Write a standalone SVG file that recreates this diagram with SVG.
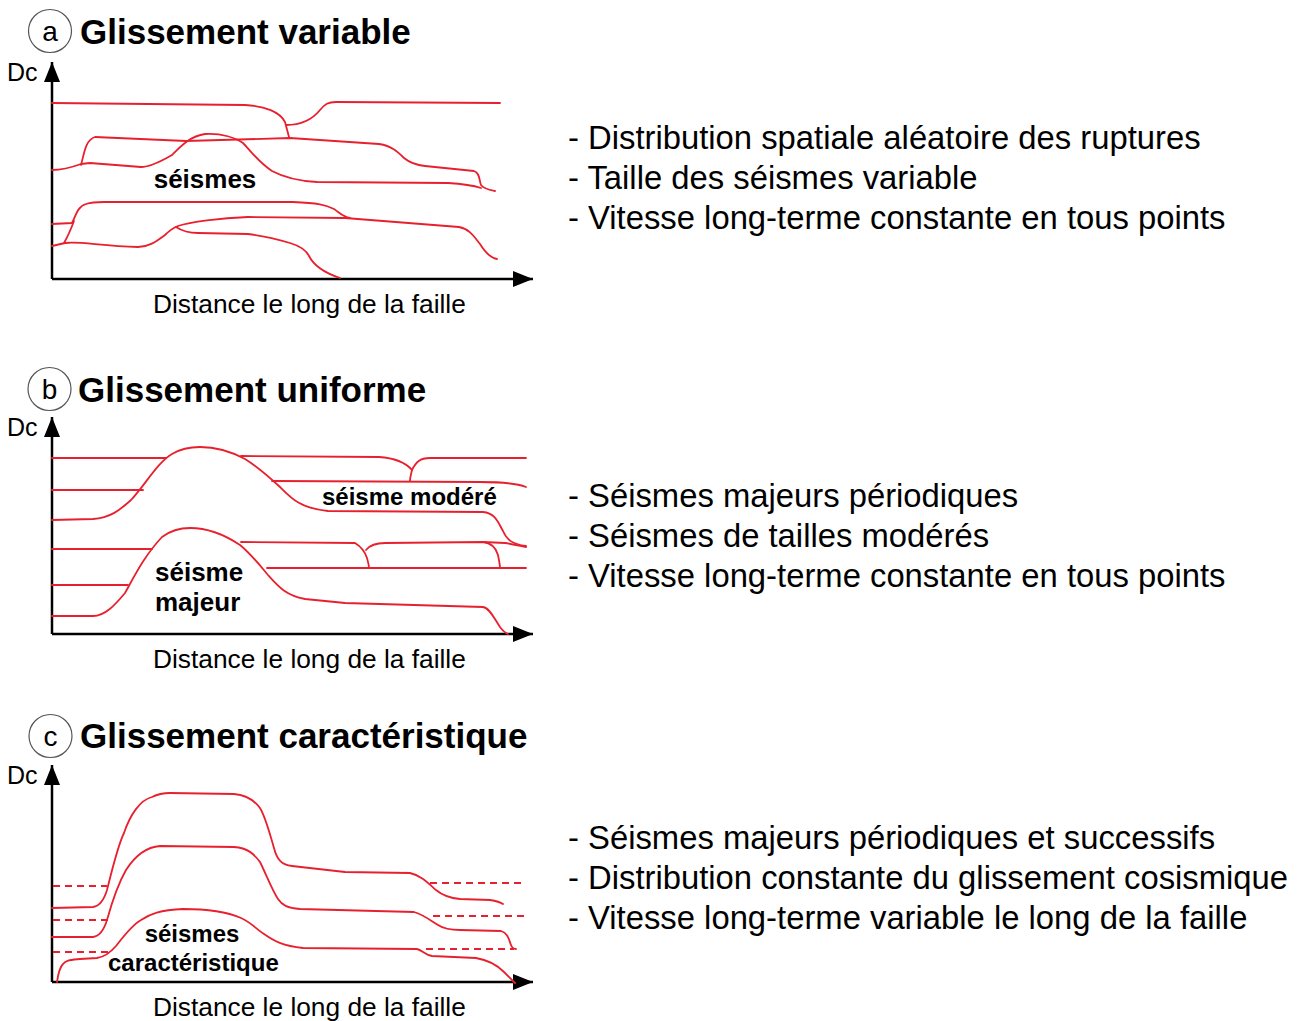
<svg xmlns="http://www.w3.org/2000/svg" width="1302" height="1021" viewBox="0 0 1302 1021">
<defs>
<marker id="arr" viewBox="0 0 20 16" refX="20" refY="8" markerWidth="20" markerHeight="16" markerUnits="userSpaceOnUse" orient="auto">
<path d="M0,0 L20,8 L0,16 Z" fill="#000"/>
</marker>
</defs>
<style>
.ax{stroke:#000;stroke-width:2.5;fill:none}
.cv{stroke:#e8202e;stroke-width:1.8;fill:none;stroke-linecap:round;stroke-linejoin:round}
.ds{stroke:#e8202e;stroke-width:1.8;fill:none;stroke-dasharray:7,5}
.circ{fill:#fff;stroke:#555;stroke-width:1.2}
.ttl{font-family:"Liberation Sans",Arial,sans-serif;font-weight:bold;font-size:35px;fill:#000}
.lt{font-family:"Liberation Sans",Arial,sans-serif;font-size:28px;fill:#000}
.dc{font-family:"Liberation Sans",Arial,sans-serif;font-size:25px;fill:#000}
.xl{font-family:"Liberation Sans",Arial,sans-serif;font-size:26.3px;fill:#000}
.rt{font-family:"Liberation Sans",Arial,sans-serif;font-size:32.8px;fill:#000}
.lb{font-family:"Liberation Sans",Arial,sans-serif;font-weight:bold;font-size:24px;fill:#000}
</style>

<!-- Panel a -->
<g id="panel-a-title">
<circle class="circ" cx="50" cy="31" r="21.5"/>
<text class="lt" x="50" y="41" text-anchor="middle">a</text>
<text class="ttl" x="80" y="44">Glissement variable</text>
</g>
<g id="panel-a-axes">
<line class="ax" x1="52" y1="279" x2="52" y2="62" marker-end="url(#arr)"/>
<line class="ax" x1="52" y1="279" x2="533" y2="279" marker-end="url(#arr)"/>
<text class="dc" x="7" y="81">Dc</text>
<text class="xl" x="153" y="313">Distance le long de la faille</text>
</g>
<g id="panel-a-curves">
<path class="cv" d="M52,103 L245,105 C265,106 280,112 285,122 L289,137"/>
<path class="cv" d="M286,125 C300,125 312,120 320,110 C325,104 328,102 336,102 L500,103"/>
<path class="cv" d="M81,165 C84,155 85,140 95,137 L186,141 L290,138 L379,144 C392,146 398,152 404,158 C410,163 415,165 425,166 L474,171 C480,173 479,180 481,185 C484,189 490,190 495,191"/>
<path class="cv" d="M52,170 C62,170 70,168 81,164 L90,163 L141,167 C150,167 160,162 172,155 C180,147 190,136 205,134 C222,133 236,138 243,143 C250,150 258,162 272,171 C285,178 298,181 317,182 L448,183 C465,184 475,186 481,188"/>
<path class="cv" d="M52,224 L72,223 C76,215 78,206 86,204 C92,202 96,202 104,202 L293,202 C318,203 326,205 334,209 C340,213 343,217 350,218"/>
<path class="cv" d="M64,243 C68,236 71,229 74,221"/>
<path class="cv" d="M52,246 L65,243 C80,241 100,246 138,247 C150,247 158,240 165,235 C170,230 173,228 178,226 C190,222 220,218 248,217 L345,218 L459,227 C470,229 475,238 480,244 C485,252 490,258 497,259"/>
<path class="cv" d="M176,227 C182,231 188,233 198,233 L248,234 C265,236 280,240 290,243 C300,246 306,250 309,256 C313,264 322,272 340,278"/>
</g>
<g id="panel-a-labels">
<text class="lb" x="205" y="188" text-anchor="middle" style="font-size:26px">séismes</text>
</g>
<g id="panel-a-text">
<text class="rt" x="568" y="149">- Distribution spatiale aléatoire des ruptures</text>
<text class="rt" x="568" y="189">- Taille des séismes variable</text>
<text class="rt" x="568" y="229">- Vitesse long-terme constante en tous points</text>
</g>

<!-- Panel b -->
<g id="panel-b-title">
<circle class="circ" cx="49.5" cy="389" r="21.5"/>
<text class="lt" x="49.5" y="399" text-anchor="middle">b</text>
<text class="ttl" x="78" y="402">Glissement uniforme</text>
</g>
<g id="panel-b-axes">
<line class="ax" x1="52" y1="634" x2="52" y2="417" marker-end="url(#arr)"/>
<line class="ax" x1="52" y1="634" x2="533" y2="634" marker-end="url(#arr)"/>
<text class="dc" x="7" y="436">Dc</text>
<text class="xl" x="153" y="668">Distance le long de la faille</text>
</g>
<g id="panel-b-curves">
<path class="cv" d="M52,458 L166,458"/>
<path class="cv" d="M241,456 L379,457 C395,458 405,462 412,470 C411,474 410,478 410,481"/>
<path class="cv" d="M412,470 C416,462 420,458 430,458 L526,458"/>
<path class="cv" d="M52,490 L143,490"/>
<path class="cv" d="M272,481 L480,482 C505,482 518,484 526,487"/>
<path class="cv" d="M52,520 L93,519 C110,518 120,510 131,500 C145,485 158,462 172,454 C182,448 192,447 200,447 C215,447 232,452 245,459 C258,467 268,476 280,487 C292,499 300,508 328,511 L483,512 C495,513 498,522 503,531 C507,540 512,544 526,546"/>
<path class="cv" d="M52,549 L152,549"/>
<path class="cv" d="M52,616 L93,616 C105,616 115,605 125,593 C135,575 145,555 162,537 C170,531 178,528 190,528 C205,528 222,533 240,545 C250,553 258,563 268,575 C278,586 285,595 305,599 L345,603 L483,607 C490,608 495,620 500,627 C503,631 505,633 508,634"/>
<path class="cv" d="M241,542 L355,543 C360,546 365,552 367,558 C368,562 369,565 369,568"/>
<path class="cv" d="M366,550 C370,545 376,543 385,543 L483,542 C492,543 496,548 498,555 C499,560 500,565 500,568"/>
<path class="cv" d="M483,542 L505,543 C512,544 516,545 526,547"/>
<path class="cv" d="M267,568 L526,568"/>
<path class="cv" d="M52,585 L128,585"/>
</g>
<g id="panel-b-labels">
<text class="lb" x="322" y="505">séisme modéré</text>
<text class="lb" x="155" y="581" style="font-size:26px">séisme</text>
<text class="lb" x="155" y="611" style="font-size:26px">majeur</text>
</g>
<g id="panel-b-text">
<text class="rt" x="568" y="507">- Séismes majeurs périodiques</text>
<text class="rt" x="568" y="547">- Séismes de tailles modérés</text>
<text class="rt" x="568" y="587">- Vitesse long-terme constante en tous points</text>
</g>

<!-- Panel c -->
<g id="panel-c-title">
<circle class="circ" cx="50.5" cy="736" r="21.5"/>
<text class="lt" x="50.5" y="746" text-anchor="middle">c</text>
<text class="ttl" x="80" y="748">Glissement caractéristique</text>
</g>
<g id="panel-c-axes">
<line class="ax" x1="52" y1="982" x2="52" y2="765" marker-end="url(#arr)"/>
<line class="ax" x1="52" y1="982" x2="533" y2="982" marker-end="url(#arr)"/>
<text class="dc" x="7" y="784">Dc</text>
<text class="xl" x="153" y="1016">Distance le long de la faille</text>
</g>
<g id="panel-c-curves">
<path class="ds" d="M53,886 L107,886 M53,920 L109,920 M53,952 L110,952 M430,883 L526,883 M433,916 L526,916 M426,949 L514,949"/>
<path class="cv" d="M52,908 L93,907 C100,906 104,900 107,890 C112,870 118,845 124,833 C130,815 140,800 152,797 C158,794 162,793 170,793 L234,794 C246,795 254,800 260,808 C266,818 270,835 274,848 C277,860 282,865 292,866 L345,872 L410,873 C420,875 428,883 436,890 C442,895 448,898 460,899 L490,900 C496,901 500,902 503,904"/>
<path class="cv" d="M52,937 L93,937 C100,936 104,930 107,920 C112,902 118,884 126,870 C135,856 146,847 160,846 L234,847 C248,848 254,854 260,862 C266,874 272,890 278,899 C282,905 287,908 300,909 L414,912 C422,914 430,920 438,925 C444,929 450,930 460,930 L501,931 C508,933 509,940 511,945 C512,948 513,949 516,949"/>
<path class="cv" d="M57,982 C58,975 59,968 63,964 C66,960 70,960 80,959 L97,958 C104,957 110,953 116,946 C123,937 132,925 141,920 C150,914 160,910 183,909 C200,909 225,911 241,918 C252,923 256,929 264,934 C274,941 283,946 303,948 L417,949 C422,950 425,955 432,956 L476,958 C488,960 498,966 504,972 C509,977 512,980 515,983"/>
</g>
<g id="panel-c-labels">
<text class="lb" x="192" y="942" text-anchor="middle">séismes</text>
<text class="lb" x="108" y="971">caractéristique</text>
</g>
<g id="panel-c-text">
<text class="rt" x="568" y="849">- Séismes majeurs périodiques et successifs</text>
<text class="rt" x="568" y="889">- Distribution constante du glissement cosismique</text>
<text class="rt" x="568" y="929">- Vitesse long-terme variable le long de la faille</text>
</g>
</svg>
